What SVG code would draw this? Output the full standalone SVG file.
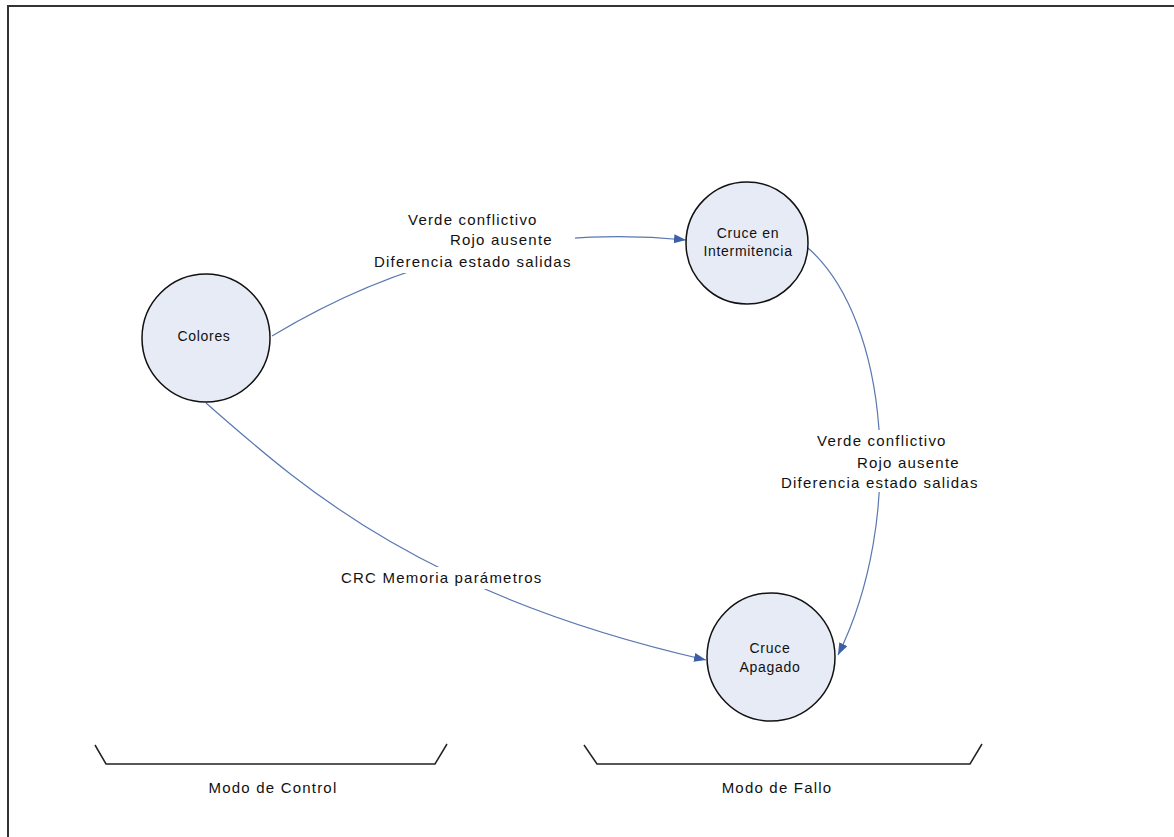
<svg xmlns="http://www.w3.org/2000/svg" width="1174" height="837" viewBox="0 0 1174 837">
<style>
  .node circle { fill: #e6ebf5; stroke: #111; stroke-width: 1.5; }
  .ntext { font-family: "Liberation Sans", Arial, sans-serif; font-size: 14px; letter-spacing: 0.7px; fill: #111; text-anchor: middle; }
  .etext { font-family: "Liberation Sans", Arial, sans-serif; font-size: 15px; letter-spacing: 1.2px; fill: #111; }
  .conn { fill: none; stroke: #5a78b0; stroke-width: 1.2; }
  .bg { fill: #fff; stroke: none; }
  .bracket { fill: none; stroke: #222; stroke-width: 1.5; }
</style>
<defs>
  <marker id="arr" markerUnits="userSpaceOnUse" markerWidth="13" markerHeight="11" refX="12" refY="4.5" orient="auto">
    <path d="M0,0 L12,4.5 L0,9 z" fill="#3d5fa8"/>
  </marker>
</defs>
<rect x="0" y="0" width="1174" height="837" fill="#fff"/>
<rect x="8" y="6" width="1180" height="850" fill="none" stroke="#333" stroke-width="2"/>

<g id="connectors">
  <path class="conn" d="M272,336 Q468,218 686,240" marker-end="url(#arr)"/>
  <path class="conn" d="M808,248 C890,320 905,520 838,655" marker-end="url(#arr)"/>
  <path class="conn" d="M206,403 C300,485 420,595 706,660" marker-end="url(#arr)"/>
  <g id="label1">
    <rect class="bg" x="372" y="207" width="203" height="66"/>
    <text class="etext" x="408" y="225">Verde conflictivo</text>
    <text class="etext" x="450" y="245">Rojo ausente</text>
    <text class="etext" x="374" y="267">Diferencia estado salidas</text>
  </g>
  <g id="label2">
    <rect class="bg" x="778" y="430" width="204" height="62"/>
    <text class="etext" x="817" y="446">Verde conflictivo</text>
    <text class="etext" x="857" y="468">Rojo ausente</text>
    <text class="etext" x="781" y="488">Diferencia estado salidas</text>
  </g>
  <g id="label3">
    <rect class="bg" x="338" y="567" width="214" height="22"/>
    <text class="etext" x="341" y="583">CRC Memoria parámetros</text>
  </g>
</g>

<g id="colores" class="node">
  <circle cx="206" cy="338" r="64"/>
  <text class="ntext" x="204" y="341">Colores</text>
</g>
<g id="intermitencia" class="node">
  <circle cx="747" cy="243" r="61"/>
  <text class="ntext" x="748" y="238">Cruce en</text>
  <text class="ntext" x="748" y="256">Intermitencia</text>
</g>
<g id="apagado" class="node">
  <circle cx="771" cy="657" r="64"/>
  <text class="ntext" x="770" y="653">Cruce</text>
  <text class="ntext" x="770" y="672">Apagado</text>
</g>

<g id="modo-control">
  <path class="bracket" d="M95,745 L106,764 L435,764 L447,744"/>
  <text class="etext" x="273" y="793" text-anchor="middle">Modo de Control</text>
</g>
<g id="modo-fallo">
  <path class="bracket" d="M584,745 L597,764 L970,764 L982,744"/>
  <text class="etext" x="777" y="793" text-anchor="middle">Modo de Fallo</text>
</g>
</svg>
